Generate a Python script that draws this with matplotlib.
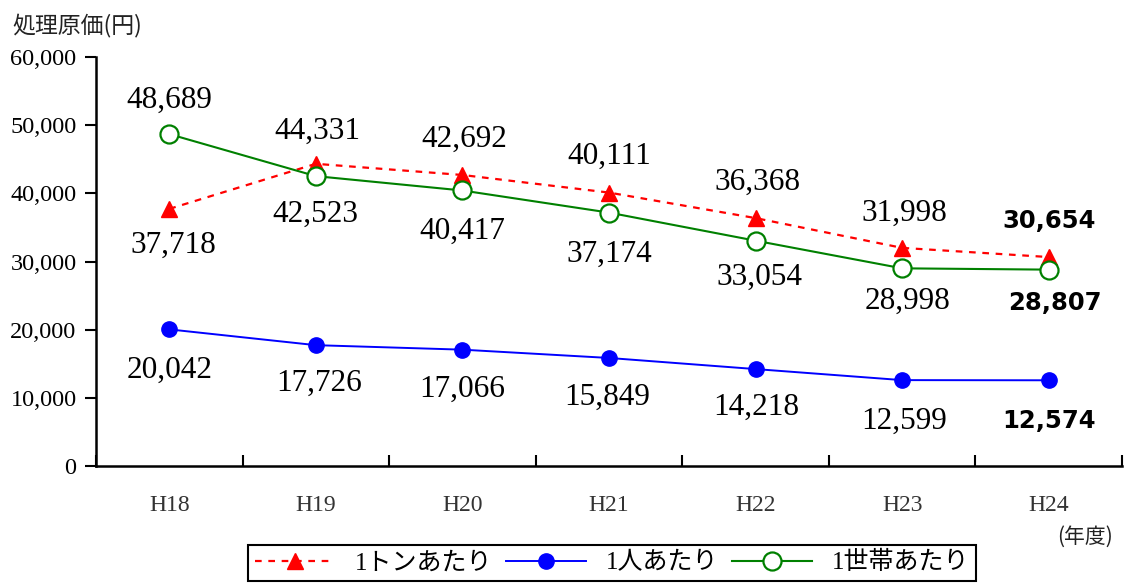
import matplotlib.pyplot as plt
from matplotlib.lines import Line2D

years = ["H18", "H19", "H20", "H21", "H22", "H23", "H24"]
per_ton = [37718, 44331, 42692, 40111, 36368, 31998, 30654]
per_person = [20042, 17726, 17066, 15849, 14218, 12599, 12574]
per_household = [48689, 42523, 40417, 37174, 33054, 28998, 28807]

# where the value label sits relative to the marker (pixels)
ton_off = [(4, -36), (2, 32), (2, 36), (0, 36), (2, 36), (2, 35), (0, 36)]
person_off = [(0, -41), (3, -38), (0, -40), (-2, -39), (1, -38), (2, -41), (0, -41)]
house_off = [(0, 34), (0, -38), (0, -41), (0, -42), (4, -37), (5, -33), (6, -33)]

serif = ["Liberation Serif", "DejaVu Serif"]
jp = ["Liberation Serif", "Noto Sans CJK JP"]

fig = plt.figure(figsize=(11.29, 5.85), dpi=100)
ax = fig.add_axes([96 / 1129, 1 - 466 / 585, 1026 / 1129, 409 / 585])

x = list(range(len(years)))
ax.plot(x, per_ton, color="red", lw=1.6, ls=(0, (3, 3)), marker="^",
        ms=11, mec="red", mfc="red", zorder=3)
ax.plot(x, per_person, color="blue", lw=1.4, marker="o", ms=11,
        mec="blue", mfc="blue", zorder=3)
ax.plot(x, per_household, color="green", lw=1.5, marker="o", ms=13,
        mec="green", mfc="white", mew=1.6, zorder=4)


def put_labels(vals, offs):
    for i, (v, o) in enumerate(zip(vals, offs)):
        last = i == len(vals) - 1
        ax.annotate(f"{v:,}", (i, v), xytext=o, textcoords="offset pixels",
                    ha="center", va="center",
                    fontsize=17.5 if last else 22.5,
                    family="DejaVu Sans" if last else serif,
                    fontweight="bold" if last else "normal",
                    color="black")


put_labels(per_ton, ton_off)
put_labels(per_person, person_off)
put_labels(per_household, house_off)

ax.set_xlim(-0.5, len(years) - 0.5)
ax.set_ylim(0, 60000)
ax.set_yticks(range(0, 60001, 10000))
ax.set_yticklabels([f"{v:,}" for v in range(0, 60001, 10000)],
                   family=serif, fontsize=17.5)
ax.tick_params(axis="y", direction="out", length=8, width=1.5, pad=6)

ax.set_xticks(x)
ax.set_xticklabels(years, family=serif, fontsize=17, color="#333333")
ax.set_xticks([i - 0.5 for i in range(len(years) + 1)], minor=True)
ax.tick_params(axis="x", which="major", length=0, pad=21)
ax.tick_params(axis="x", which="minor", direction="in", length=8, width=1.5)

for s in ["top", "right"]:
    ax.spines[s].set_visible(False)
ax.spines["left"].set_linewidth(1.8)
ax.spines["bottom"].set_linewidth(1.8)

fig.text(12 / 1129, 1 - 25 / 585, "処理原価(円)", family="Noto Sans CJK JP",
         fontsize=16.5, va="center", ha="left", color="#222222")
fig.text(1085 / 1129, 1 - 537 / 585, "(年度)", family="Noto Sans CJK JP",
         fontsize=15, va="center", ha="center", color="#222222")

handles = [
    Line2D([], [], color="red", lw=1.6, ls=(0, (3, 3)), marker="^", ms=11,
           mec="red", mfc="red"),
    Line2D([], [], color="blue", lw=1.4, marker="o", ms=11, mec="blue",
           mfc="blue"),
    Line2D([], [], color="green", lw=1.5, marker="o", ms=13, mec="green",
           mfc="white", mew=1.6),
]
leg = fig.legend(handles, ["1トンあたり", "1人あたり", "1世帯あたり"],
                 loc="upper center", bbox_to_anchor=(612 / 1129, 1 - 545 / 585),
                 borderaxespad=0, ncol=3, frameon=True, fancybox=False,
                 edgecolor="black", framealpha=1,
                 prop={"family": jp, "size": 18},
                 handlelength=3.2, columnspacing=0.55, handletextpad=0.8,
                 borderpad=0.25)
leg.get_frame().set_linewidth(1.5)

fig.savefig("out.png", dpi=100)
